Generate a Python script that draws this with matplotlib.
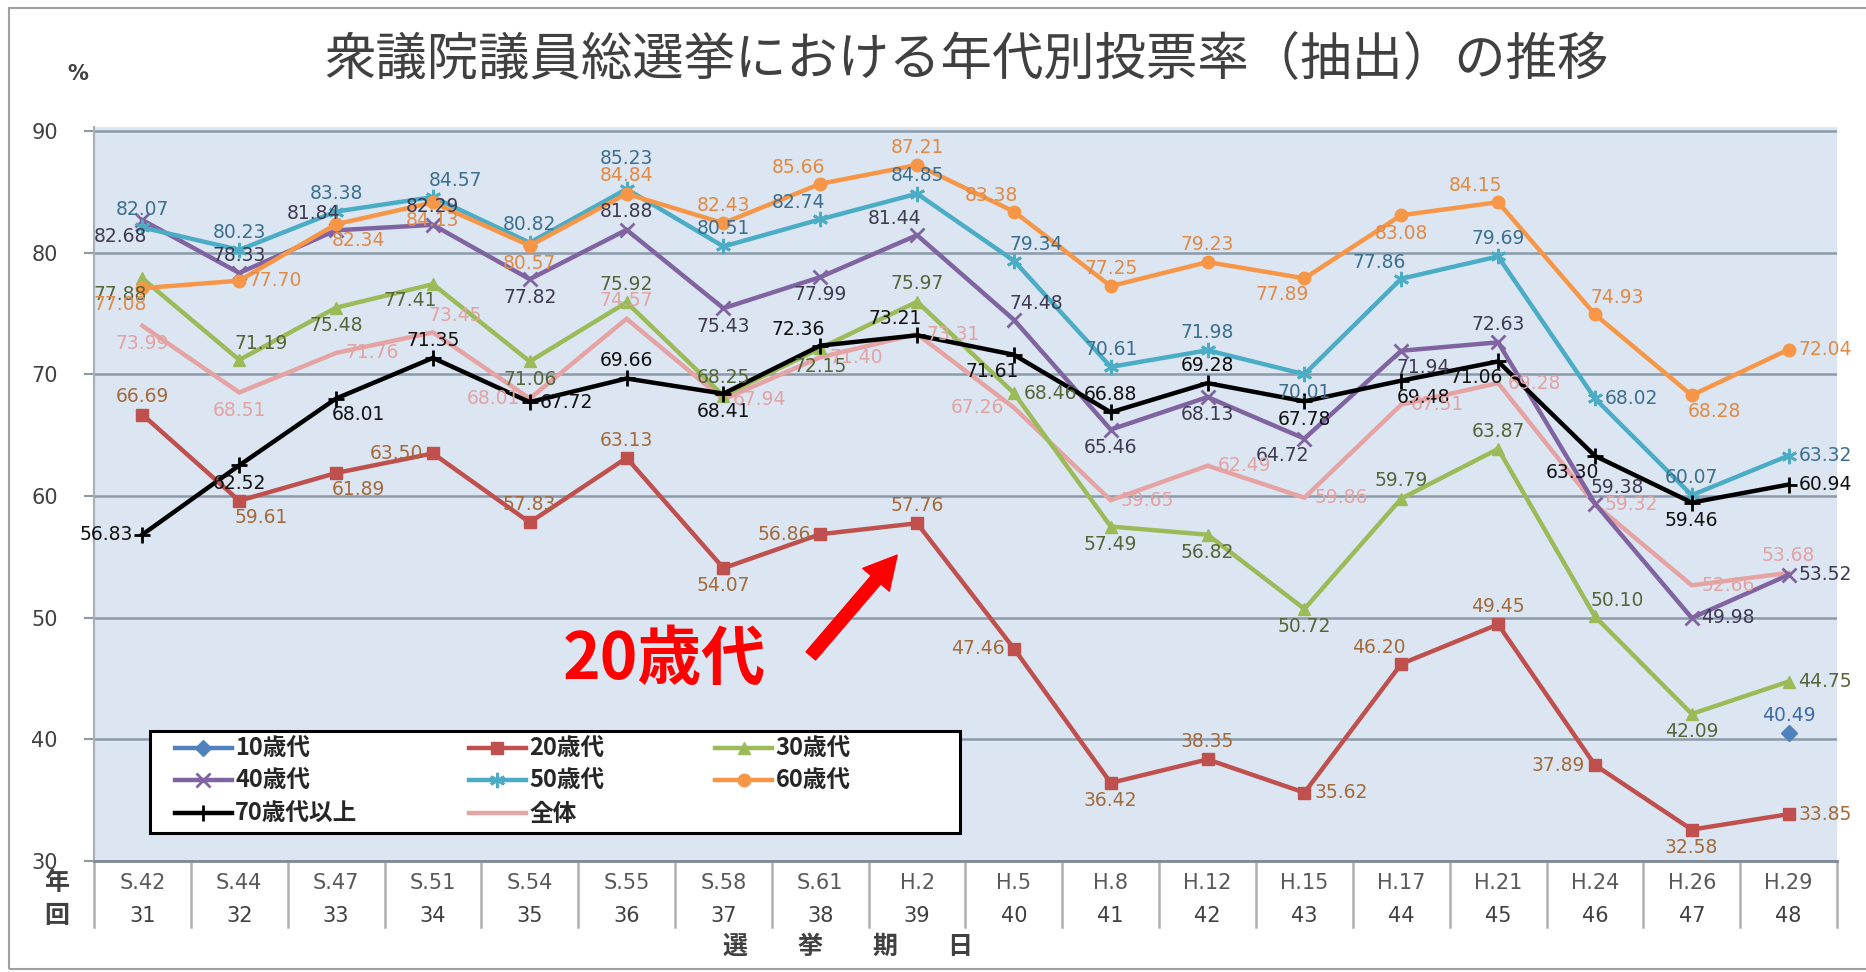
import numpy as np
import matplotlib
matplotlib.use('Agg')
import matplotlib.pyplot as plt
from matplotlib.transforms import blended_transform_factory
from matplotlib.patches import FancyArrowPatch, Rectangle

plt.rcParams['font.family'] = ['Noto Sans CJK JP', 'DejaVu Sans']

# ---------------- data ----------------
years = ['S.42', 'S.44', 'S.47', 'S.51', 'S.54', 'S.55', 'S.58', 'S.61', 'H.2',
         'H.5', 'H.8', 'H.12', 'H.15', 'H.17', 'H.21', 'H.24', 'H.26', 'H.29']
rounds = ['31', '32', '33', '34', '35', '36', '37', '38', '39',
          '40', '41', '42', '43', '44', '45', '46', '47', '48']

teens = [np.nan] * 17 + [40.49]
twenties = [66.69, 59.61, 61.89, 63.50, 57.83, 63.13, 54.07, 56.86, 57.76,
            47.46, 36.42, 38.35, 35.62, 46.20, 49.45, 37.89, 32.58, 33.85]
thirties = [77.88, 71.19, 75.48, 77.41, 71.06, 75.92, 68.25, 72.15, 75.97,
            68.46, 57.49, 56.82, 50.72, 59.79, 63.87, 50.10, 42.09, 44.75]
forties = [82.68, 78.33, 81.84, 82.29, 77.82, 81.88, 75.43, 77.99, 81.44,
           74.48, 65.46, 68.13, 64.72, 71.94, 72.63, 59.38, 49.98, 53.52]
fifties = [82.07, 80.23, 83.38, 84.57, 80.82, 85.23, 80.51, 82.74, 84.85,
           79.34, 70.61, 71.98, 70.01, 77.86, 79.69, 68.02, 60.07, 63.32]
sixties = [77.08, 77.70, 82.34, 84.13, 80.57, 84.84, 82.43, 85.66, 87.21,
           83.38, 77.25, 79.23, 77.89, 83.08, 84.15, 74.93, 68.28, 72.04]
seventies = [56.83, 62.52, 68.01, 71.35, 67.72, 69.66, 68.41, 72.36, 73.21,
             71.61, 66.88, 69.28, 67.78, 69.48, 71.06, 63.30, 59.46, 60.94]
overall = [73.99, 68.51, 71.76, 73.45, 68.01, 74.57, 67.94, 71.40, 73.31,
           67.26, 59.65, 62.49, 59.86, 67.51, 69.28, 59.32, 52.66, 53.68]

series_names = ['10歳代', '20歳代', '30歳代', '40歳代', '50歳代', '60歳代', '70歳代以上', '全体']

# label placement (a=above, b=below, l=left, r=right, combos)
place_teens = ['a'] * 18
place_20 = ['a', 'br', 'br', 'l', 'a', 'a', 'b', 'l', 'a',
            'l', 'b', 'a', 'r', 'al', 'a', 'l', 'b', 'r']
place_30 = ['bl', 'ar', 'b', 'bl', 'b', 'a', 'a', 'b', 'a',
            'r', 'b', 'b', 'b', 'a', 'a', 'ar', 'b', 'r']
place_40 = ['bl', 'a', 'al', 'a', 'b', 'a', 'b', 'b', 'al',
            'ar', 'b', 'b', 'bl', 'br', 'a', 'ar', 'r', 'r']
place_50 = ['a', 'a', 'a', 'ar', 'a', 'aa', 'a', 'al', 'a',
            'ar', 'a', 'a', 'b', 'al', 'a', 'r', 'a', 'r']
place_60 = ['bl', 'r', 'br', 'b', 'b', 'a', 'a', 'al', 'a',
            'al', 'a', 'a', 'bl', 'b', 'al', 'ar', 'br', 'r']
place_70 = ['l', 'b', 'br', 'a', 'r', 'a', 'b', 'al', 'al',
            'bl', 'a', 'a', 'b', 'br', 'bl', 'bl', 'b', 'r']
place_all = ['b', 'b', 'r', 'ar', 'l', 'a', 'r', 'r', 'r',
             'l', 'r', 'r', 'r', 'r', 'r', 'r', 'r', 'a']

# ---------------- styles ----------------
line_colors = ['#4f81bd', '#c0504d', '#9bbb59', '#8064a2', '#4bacc6', '#f79646', '#000000', '#e6a3a3']
label_colors = ['#3f6aa3', '#a36a3c', '#56663a', '#3f3a52', '#3d6f8f', '#e08a45', '#111111', '#e2a3a3']
markers = ['D', 's', '^', 'x', (6, 2, 0), 'o', '+', None]
msizes = [8, 9, 9, 10, 11, 9, 11, 0]

offsets = {
    'a': ((0, 6), 'center', 'bottom'),
    'aa': ((0, 15), 'center', 'bottom'),
    'b': ((0, -6), 'center', 'top'),
    'l': ((-7, 0), 'right', 'center'),
    'r': ((7, 0), 'left', 'center'),
    'al': ((-16, 5), 'center', 'bottom'),
    'ar': ((16, 5), 'center', 'bottom'),
    'bl': ((-16, -5), 'center', 'top'),
    'br': ((16, -5), 'center', 'top'),
}

W, H = 1866, 972
fig = plt.figure(figsize=(W / 100, H / 100), dpi=100)
fig.patch.set_facecolor('white')

ax = fig.add_axes([94 / W, 111 / H, 1743 / W, 734 / H])
ax.set_facecolor('#dce6f2')
ax.set_xlim(-0.5, len(years) - 0.5)
ax.set_ylim(30, 90.33)

# grid
ax.set_yticks([30, 40, 50, 60, 70, 80, 90])
ax.set_yticklabels(['30', '40', '50', '60', '70', '80', '90'], fontsize=15,
                   color='#404040', family=['DejaVu Sans'])
ax.tick_params(axis='y', length=7, width=1.5, color='#8c99a8', pad=19)
ax.yaxis.grid(True, color='#8c99a8', lw=1.8)
ax.set_axisbelow(True)
ax.set_xticks([])
for s in ['top', 'right']:
    ax.spines[s].set_visible(False)
ax.spines['left'].set_color('#a6aeb8')
ax.spines['left'].set_linewidth(1.5)
ax.spines['bottom'].set_color('#7f8a98')
ax.spines['bottom'].set_linewidth(2)

x = np.arange(len(years))
all_series = [teens, twenties, thirties, forties, fifties, sixties, seventies, overall]
all_place = [place_teens, place_20, place_30, place_40, place_50, place_60, place_70, place_all]
zorders = [5, 6, 4, 4, 4, 4, 5, 3]

handles = []
for i, (vals, name) in enumerate(zip(all_series, series_names)):
    mk = markers[i]
    ln, = ax.plot(x, vals, color=line_colors[i], lw=3.2, marker=mk if mk else None,
                  markersize=msizes[i], markeredgewidth=2 if mk in ('x', '+', (6, 2, 0)) else 1,
                  markeredgecolor=line_colors[i], markerfacecolor=line_colors[i],
                  label=name, zorder=zorders[i], solid_joinstyle='miter')
    handles.append(ln)
    for xi, v, p in zip(x, vals, all_place[i]):
        if np.isnan(v):
            continue
        off, ha, va = offsets[p]
        ax.annotate(f'{v:.2f}', (xi, v), xytext=off, textcoords='offset points',
                    ha=ha, va=va, fontsize=13.5, color=label_colors[i],
                    family=['DejaVu Sans'], zorder=10)

# legend frame (drawn separately) and entries (row-major order in 3 columns)
def ax_x(px):
    return (px - 94) / 1743

def ax_y(py):
    return (861 - py) / 734

legframe = Rectangle((ax_x(150), ax_y(833)), ax_x(960) - ax_x(150), ax_y(731) - ax_y(833),
                     transform=ax.transAxes, facecolor='white', edgecolor='black', lw=2.2, zorder=19)
ax.add_patch(legframe)
order = [0, 3, 6, 1, 4, 7, 2, 5]
leg = ax.legend([handles[k] for k in order], [series_names[k] for k in order],
                ncol=3, loc='lower left',
                bbox_to_anchor=(ax_x(168), ax_y(833), ax_x(858) - ax_x(168), ax_y(731) - ax_y(833)),
                mode='expand', frameon=False, handlelength=2.4,
                handletextpad=0.15, labelspacing=0.36, borderpad=0.3, borderaxespad=0,
                prop={'family': ['Noto Sans CJK JP', 'DejaVu Sans'], 'size': 17, 'weight': 'bold'},
                labelcolor='#262626')
leg.set_zorder(20)

# category table under the axis
tr = blended_transform_factory(ax.transData, ax.transAxes)
for i in range(len(years) + 1):
    ax.plot([i - 0.5, i - 0.5], [0, -0.09], transform=tr, color='#b0b0b0', lw=1.8, clip_on=False)
for xi, yl, rl in zip(x, years, rounds):
    ax.text(xi, -0.030, yl, transform=tr, ha='center', va='center', fontsize=15,
            color='#595959', family=['DejaVu Sans'])
    ax.text(xi, -0.075, rl, transform=tr, ha='center', va='center', fontsize=15,
            color='#404040', family=['DejaVu Sans'])

fig.text(57 / W, 1 - 883 / H, '年', ha='center', va='center', fontsize=18, color='#404040', weight='bold')
fig.text(57 / W, 1 - 916 / H, '回', ha='center', va='center', fontsize=18, color='#404040', weight='bold')
fig.text(848 / W, 1 - 947 / H, '選　　挙　　期　　日', ha='center', va='center', fontsize=18,
         color='#404040', weight='bold')

# title and unit
fig.text(966 / W, 1 - 60 / H, '衆議院議員総選挙における年代別投票率（抽出）の推移', ha='center', va='center',
         fontsize=37, color='#404040')
fig.text(78 / W, 1 - 74 / H, '%', ha='center', va='center', fontsize=15, color='#404040',
         family=['DejaVu Sans'], weight='bold')

# red annotation
fig.text(664 / W, 1 - 660 / H, '20歳代', ha='center', va='center', fontsize=46,
         color='#ff0000', weight='bold')
arrow = FancyArrowPatch((809 / W, 1 - 658 / H), (899 / W, 1 - 553 / H), transform=fig.transFigure,
                        arrowstyle='simple,head_width=1.4,head_length=1.3,tail_width=0.5',
                        mutation_scale=18, color='#ff0000', zorder=30)
fig.patches.append(arrow)

# outer frame
frame = Rectangle((9 / W, 3 / H), 1.2, 1 - 11 / H, transform=fig.transFigure, fill=False,
                  edgecolor='#a0a0a0', lw=1.5)
fig.patches.append(frame)

fig.savefig('out.png', dpi=100, facecolor='white')
